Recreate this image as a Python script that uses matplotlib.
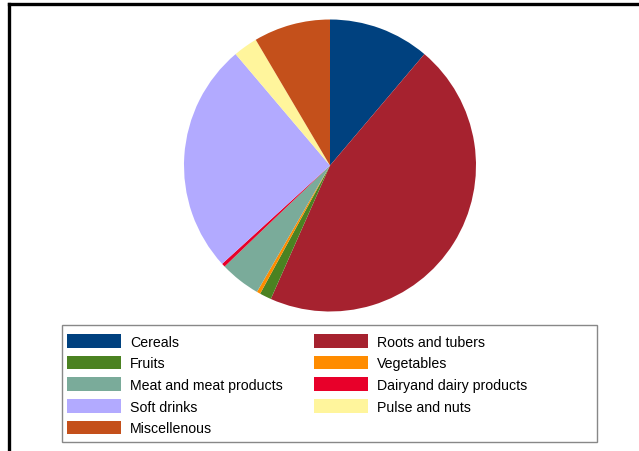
import matplotlib
matplotlib.use("Agg")
import matplotlib.pyplot as plt
from matplotlib.patches import Rectangle
from matplotlib.lines import Line2D

categories = ["Cereals", "Roots and tubers", "Fruits", "Vegetables",
              "Meat and meat products", "Dairyand dairy products",
              "Soft drinks", "Pulse and nuts", "Miscellenous"]
shares = [11.2, 45.5, 1.3, 0.4, 4.5, 0.4, 25.6, 2.7, 8.5]
colors = ["#00417f", "#a6222f", "#4b8221", "#ff8c00", "#7aab9a",
          "#e8002a", "#b2aaff", "#fff59c", "#c4501b"]

W, H = 639, 452
fig = plt.figure(figsize=(W/100, H/100), dpi=100)
fig.patch.set_facecolor("white")
plt.rcParams['font.family'] = ['Liberation Sans', 'DejaVu Sans']

cx, cy, r = 330, 166.5, 146
ax = fig.add_axes([(cx-r)/W, (H-cy-r)/H, 2*r/W, 2*r/H])
wedges, _ = ax.pie(shares, colors=colors, startangle=90, counterclock=False,
                   radius=1.0, wedgeprops=dict(linewidth=0))
ax.set_xlim(-1, 1)
ax.set_ylim(-1, 1)
ax.set_aspect("equal")
ax.axis("off")

# legend: order row-wise in two columns
order = [0, 2, 4, 6, 8, 1, 3, 5, 7]
leg = fig.legend([wedges[i] for i in order], [categories[i] for i in order],
                 ncol=2, loc="upper left",
                 bbox_to_anchor=(67/W, 1-335/H), frameon=False,
                 fontsize=10.2, handlelength=3.8, handleheight=1.1,
                 handletextpad=0.65, labelspacing=0.5, columnspacing=2.2,
                 borderpad=0.0, borderaxespad=0)
fig.add_artist(Rectangle((62/W, 1-443/H), (597-62)/W, (443-326)/H,
                         transform=fig.transFigure, fill=False,
                         edgecolor="#888888", linewidth=1))

# outer frame (thick black top and left edge)
fig.add_artist(Line2D([9/W, 1], [1-5/H, 1-5/H], transform=fig.transFigure,
                      color="black", linewidth=2.4))
fig.add_artist(Line2D([9/W, 9/W], [0, 1-5/H], transform=fig.transFigure,
                      color="black", linewidth=2.4))

fig.savefig("out.png", dpi=100, facecolor="white")
